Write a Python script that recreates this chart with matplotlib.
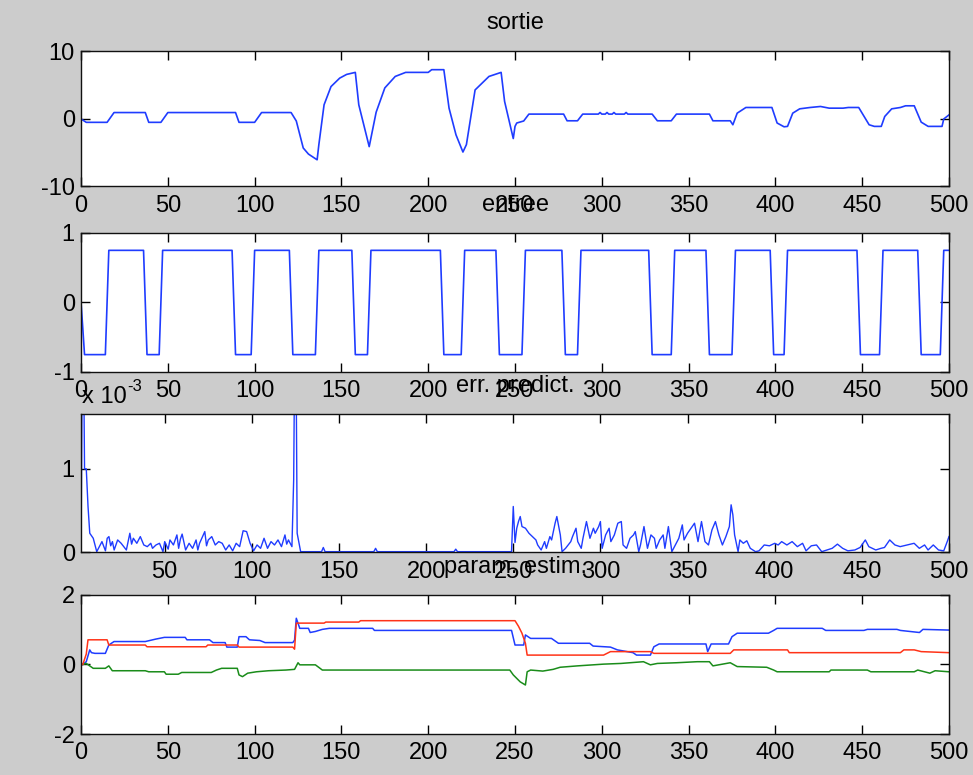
import numpy as np
import matplotlib
matplotlib.use("Agg")
import matplotlib.pyplot as plt

# sortie (sortie du systeme) - sommets
sortie_t = [0, 3, 15, 19, 37, 39, 46, 50, 89, 91, 100, 104, 121, 124, 128, 131,
            136, 137, 140, 144, 149, 153, 158, 160, 166, 170, 175, 181, 187, 200,
            202, 209, 212, 216, 220, 222, 227, 235, 242, 244, 249, 250, 251, 255,
            258, 278, 280, 286, 289, 298, 299, 300, 302, 303, 304, 306, 307, 308,
            313, 314, 315, 329, 332, 340, 343, 362, 364, 374, 375.5, 378, 383,
            398, 401, 405, 407, 410, 414, 420, 426, 431, 439, 442, 448, 454, 457,
            461, 463, 467, 472, 475, 480, 484, 488, 496, 497, 500]
sortie_y = [0, -0.5, -0.5, 0.95, 0.95, -0.5, -0.5, 0.95, 0.95, -0.5, -0.5, 0.95,
            0.95, -0.3, -4.3, -5.2, -6.05, -3.8, 2.1, 4.8, 6.05, 6.6, 6.9, 2.1,
            -4.1, 1.0, 4.6, 6.3, 6.9, 6.9, 7.3, 7.3, 1.6, -2.35, -4.9, -3.8, 4.3,
            6.3, 6.9, 2.6, -2.9, -1.1, -0.6, -0.3, 0.72, 0.72, -0.27, -0.27, 0.72,
            0.72, 0.96, 0.72, 0.72, 0.96, 0.72, 0.72, 0.96, 0.72, 0.72, 0.96, 0.72,
            0.72, -0.27, -0.27, 0.72, 0.72, -0.27, -0.27, -0.86, 0.86, 1.7, 1.7,
            -0.6, -1.16, -1.1, 0.86, 1.5, 1.7, 1.85, 1.6, 1.6, 1.7, 1.7, -0.86,
            -1.1, -1.1, 0.37, 1.5, 1.7, 1.95, 1.95, -0.47, -1.1, -1.1, 0.0, 0.6]

# entree : signal carre +/-0.75, instants de commutation
entree_start_t = [0, 1, 2]
entree_start_y = [0, -0.37, -0.75]
entree_switch = [15, 37, 46, 88, 99, 121, 136, 157, 166, 208, 220, 240, 255,
                 278, 287, 328, 341, 361, 376, 398, 406, 448, 461, 483, 496]
entree_level = 0.75

# erreur de prediction (x 1e-3)
err_t = [2, 3, 4, 5, 6, 7, 9, 11, 14, 16, 17, 18, 19, 20, 21, 23, 25, 28, 30, 31,
         32, 34, 36, 38, 40, 42, 43, 45, 47, 49, 50, 52, 53, 55, 57, 58, 59, 60,
         62, 64, 66, 68, 69, 70, 73, 74, 75, 77, 79, 81, 83, 85, 87, 89, 91, 93,
         95, 97, 99, 101, 103, 105, 107, 109, 111, 113, 115, 117, 119, 120, 121,
         123, 124, 125, 126, 128, 140, 141, 142, 170, 171, 172, 216, 217, 218,
         249, 250, 251, 252, 253, 254, 255, 257, 259, 261, 263, 264, 266, 268,
         269, 271, 272, 274, 275, 277, 278, 280, 283, 284, 286, 287, 289, 290,
         292, 294, 296, 297, 299, 300, 301, 303, 305, 306, 308, 310, 312, 313,
         315, 317, 319, 320, 322, 323, 325, 327, 329, 331, 332, 334, 336, 337,
         339, 341, 343, 345, 347, 348, 350, 352, 354, 356, 358, 360, 362, 364,
         366, 368, 370, 372, 374, 375, 376, 377, 379, 380, 382, 384, 386, 389,
         391, 394, 397, 400, 402, 404, 407, 410, 413, 416, 418, 421, 424, 427,
         430, 433, 436, 439, 442, 446, 449, 452, 454, 458, 461, 463, 466, 469,
         472, 476, 480, 483, 486, 488, 491, 494, 497, 499, 500]
err_y = [0.0, 3.5, 1.0, 1.0, 0.55, 0.23, 0.17, 0.01, 0.13, 0.02, 0.17, 0.19, 0.08,
         0.13, 0.03, 0.15, 0.11, 0.03, 0.23, 0.10, 0.17, 0.11, 0.19, 0.09, 0.07,
         0.11, 0.05, 0.09, 0.11, 0.01, 0.13, 0.04, 0.15, 0.09, 0.21, 0.05, 0.16,
         0.22, 0.03, 0.11, 0.05, 0.15, 0.03, 0.11, 0.25, 0.08, 0.15, 0.19, 0.09,
         0.13, 0.11, 0.03, 0.09, 0.02, 0.11, 0.07, 0.26, 0.25, 0.11, 0.02, 0.09,
         0.05, 0.17, 0.05, 0.13, 0.09, 0.15, 0.07, 0.21, 0.10, 0.15, 0.07, 0.87,
         3.5, 0.23, 0.01, 0.01, 0.06, 0.01, 0.01, 0.05, 0.01, 0.01, 0.04, 0.01,
         0.01, 0.55, 0.12, 0.29, 0.37, 0.43, 0.31, 0.29, 0.23, 0.19, 0.15, 0.09,
         0.03, 0.13, 0.05, 0.19, 0.15, 0.35, 0.43, 0.21, 0.01, 0.05, 0.13, 0.19,
         0.29, 0.13, 0.05, 0.17, 0.37, 0.17, 0.29, 0.23, 0.31, 0.37, 0.05, 0.21,
         0.29, 0.13, 0.21, 0.35, 0.37, 0.09, 0.05, 0.17, 0.21, 0.25, 0.01, 0.09,
         0.31, 0.05, 0.21, 0.17, 0.05, 0.15, 0.21, 0.05, 0.31, 0.01, 0.09, 0.17,
         0.33, 0.15, 0.23, 0.29, 0.35, 0.13, 0.37, 0.13, 0.09, 0.27, 0.37, 0.21,
         0.09, 0.19, 0.31, 0.57, 0.45, 0.21, 0.01, 0.15, 0.11, 0.14, 0.05, 0.01,
         0.02, 0.09, 0.08, 0.11, 0.09, 0.13, 0.09, 0.13, 0.07, 0.11, 0.02, 0.08,
         0.09, 0.01, 0.03, 0.05, 0.10, 0.05, 0.02, 0.03, 0.06, 0.15, 0.07, 0.03,
         0.05, 0.06, 0.15, 0.09, 0.07, 0.09, 0.11, 0.05, 0.09, 0.03, 0.09, 0.03,
         0.02, 0.13, 0.19]

# parametres estimes (3 courbes)
p1_t = [1, 3, 5, 6, 8, 14, 16, 19, 37, 43, 48, 60, 61, 74, 76, 83, 84, 90, 91,
        95, 97, 103, 106, 122, 123, 124, 126, 131, 132, 135, 139, 143, 168, 169,
        248, 250, 255, 256, 259, 271, 275, 293, 295, 305, 309, 318, 320, 328,
        330, 333, 360, 361, 363, 373, 375, 378, 396, 399, 401, 427, 429, 451,
        453, 470, 472, 483, 485, 500]
p1_y = [0, 0.08, 0.42, 0.34, 0.32, 0.32, 0.56, 0.66, 0.66, 0.73, 0.78, 0.78,
        0.71, 0.71, 0.63, 0.63, 0.5, 0.5, 0.8, 0.8, 0.71, 0.69, 0.63, 0.63, 0.7,
        1.33, 1.04, 1.04, 0.92, 0.95, 1.01, 1.04, 1.04, 0.98, 0.98, 0.56, 0.56,
        0.85, 0.75, 0.75, 0.61, 0.61, 0.53, 0.5, 0.42, 0.34, 0.27, 0.27, 0.51,
        0.59, 0.59, 0.37, 0.59, 0.59, 0.8, 0.9, 0.9, 0.98, 1.04, 1.04, 0.98,
        0.98, 1.01, 1.01, 0.98, 0.92, 1.01, 0.99]
p2_t = [1, 3, 5, 7, 14, 16, 18, 37, 39, 48, 49, 56, 58, 75, 78, 81, 90, 91, 93,
        96, 101, 108, 118, 123, 125, 126, 135, 139, 247, 249, 251, 253, 256,
        257, 259, 266, 272, 276, 286, 301, 311, 324, 328, 332, 343, 355, 362,
        364, 374, 378, 395, 399, 401, 431, 432, 453, 455, 480, 482, 489, 492, 500]
p2_y = [0, 0.03, -0.04, -0.11, -0.11, -0.04, -0.18, -0.18, -0.21, -0.21, -0.28,
        -0.28, -0.23, -0.23, -0.16, -0.11, -0.11, -0.3, -0.35, -0.25, -0.21,
        -0.18, -0.16, -0.14, 0.05, -0.01, -0.01, -0.16, -0.16, -0.3, -0.4, -0.5,
        -0.59, -0.21, -0.16, -0.19, -0.14, -0.08, -0.04, 0.01, 0.03, 0.08, -0.01,
        0.03, 0.05, 0.08, 0.08, -0.04, 0.05, -0.06, -0.08, -0.16, -0.21, -0.21,
        -0.16, -0.16, -0.21, -0.21, -0.16, -0.25, -0.18, -0.21]
p3_t = [1, 3, 4, 15, 16, 37, 38, 72, 73, 90, 91, 122, 123, 124, 140, 141, 160,
        161, 250, 252, 254, 256, 257, 301, 305, 328, 330, 374, 376, 407, 408,
        472, 474, 480, 484, 500]
p3_y = [0, 0.3, 0.71, 0.71, 0.56, 0.56, 0.51, 0.51, 0.56, 0.56, 0.5, 0.5, 0.44,
        1.19, 1.19, 1.22, 1.22, 1.26, 1.26, 1.1, 0.9, 0.61, 0.27, 0.27, 0.37,
        0.37, 0.32, 0.32, 0.42, 0.42, 0.34, 0.34, 0.42, 0.42, 0.37, 0.34]

titles = ["sortie", "entree", "err. predict.", "param. estim."]

# construction du signal carre a partir des commutations
e_t = list(entree_start_t)
e_y = list(entree_start_y)
lev = -entree_level
for s in entree_switch:
    e_t += [s - 1, s, s + 1]
    e_y += [lev, 0.0, -lev]
    lev = -lev
e_t.append(500)
e_y.append(lev)

plt.rcParams['font.family'] = ['Liberation Sans', 'DejaVu Sans']
plt.rcParams['font.size'] = 17
plt.rcParams['axes.unicode_minus'] = False

blue = '#1f3cff'
green = '#1a8c1a'
red = '#ff3318'

fig = plt.figure(figsize=(9.73, 7.75), dpi=100, facecolor='#cccccc')
boxes = [[0.0833, 0.7594, 0.892, 0.1742],
         [0.0833, 0.5200, 0.892, 0.1794],
         [0.0833, 0.2871, 0.892, 0.1781],
         [0.0833, 0.0529, 0.892, 0.1794]]
axs = [fig.add_axes(b) for b in boxes]

axs[0].plot(sortie_t, sortie_y, color=blue, lw=1.2)
axs[0].set_ylim(-10, 10)
axs[0].set_yticks([-10, 0, 10])

axs[1].plot(e_t, e_y, color=blue, lw=1.2)
axs[1].set_ylim(-1, 1)
axs[1].set_yticks([-1, 0, 1])

axs[2].plot(err_t, err_y, color=blue, lw=1.0)
axs[2].set_ylim(0, 1.65)
axs[2].set_yticks([0, 1])
# facteur d'echelle facon matlab : "x 10" + exposant "-3"
axs[2].annotate('x 10', xy=(0, 1), xycoords='axes fraction',
                xytext=(0.5, 8.5), textcoords='offset points', ha='left',
                va='baseline', fontsize=17)
axs[2].annotate('-3', xy=(0, 1), xycoords='axes fraction',
                xytext=(33, 17), textcoords='offset points', ha='left',
                va='baseline', fontsize=12)

axs[3].plot(p1_t, p1_y, color=blue, lw=1.1)
axs[3].plot(p2_t, p2_y, color=green, lw=1.1)
axs[3].plot(p3_t, p3_y, color=red, lw=1.1)
axs[3].set_ylim(-2, 2)
axs[3].set_yticks([-2, 0, 2])

for i, ax in enumerate(axs):
    if i == 2:
        ax.set_xlim(2, 500)
        ax.set_xticks(np.arange(50, 501, 50))
    else:
        ax.set_xlim(0, 500)
        ax.set_xticks(np.arange(0, 501, 50))
    ax.set_facecolor('white')
    ax.tick_params(direction='in', top=True, right=True, length=6.5,
                   width=1.0, labelsize=17, color='black')
    ax.tick_params(axis='x', pad=6)
    ax.tick_params(axis='y', pad=4.5)
    for sp in ax.spines.values():
        sp.set_linewidth(1.0)
        sp.set_color('#111111')
    ax.set_title(titles[i], fontsize=17, pad=16)

fig.savefig('out.png', dpi=100, facecolor=fig.get_facecolor())
